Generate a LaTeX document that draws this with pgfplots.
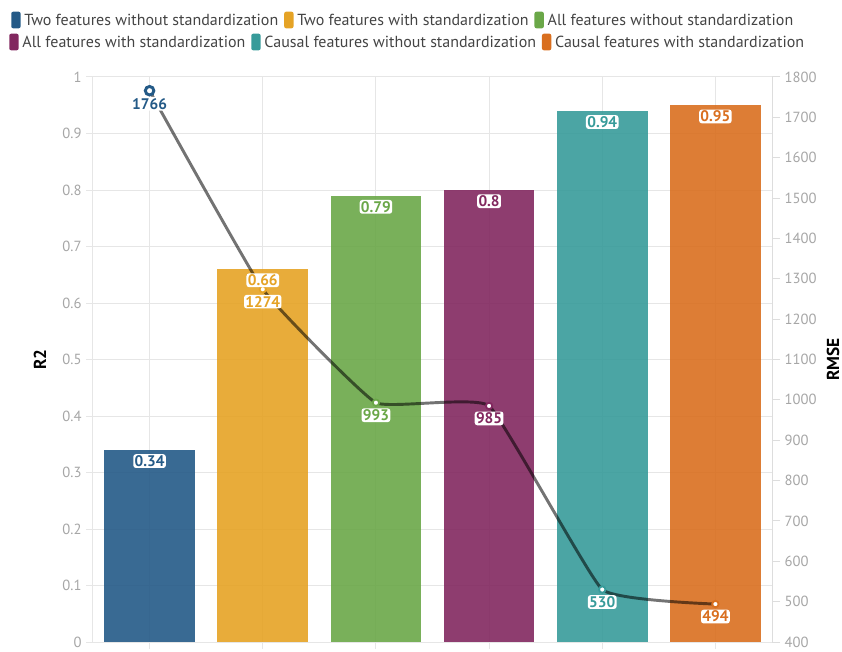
\documentclass[border=0pt]{standalone}
\usepackage{fontspec}
\setmainfont{PT Sans}
\usepackage{pgfplots}
\pgfplotsset{compat=1.18}

\definecolor{cBlue}{HTML}{245A87}
\definecolor{cYellow}{HTML}{E5A325}
\definecolor{cGreen}{HTML}{6AA748}
\definecolor{cPurple}{HTML}{82285F}
\definecolor{cTeal}{HTML}{379B9A}
\definecolor{cOrange}{HTML}{D96F1F}
\definecolor{gridgray}{HTML}{E6E6E6}
\definecolor{spinegray}{HTML}{DDDDDD}
\definecolor{tickgray}{HTML}{A6A6A6}
\definecolor{legtext}{HTML}{444444}

\pgfplotsset{
  /pgf/number format/assume math mode=true,
  /pgf/number format/1000 sep={},
  panel/.style={scale only axis, width=509.25pt, height=423.75pt,
    xmin=-0.5, xmax=5.5, clip=false},
  r2bar/.style={ybar, bar shift=0pt, draw=none, fill=#1, fill opacity=0.9},
  rmsemark/.style={only marks, mark=*, mark size=2.4pt,
    mark options={fill=white, draw=#1, line width=1.4pt},
    nodes near coords,
    every node near coord/.style={anchor=north, yshift=-3.5pt,
      font=\bfseries\fontsize{11.5}{13}\selectfont, text=#1,
      fill=white, rounded corners=2pt, inner sep=1pt}},
  r2label/.style={only marks, mark=none, nodes near coords,
    every node near coord/.style={anchor=north, yshift=-3pt,
      font=\bfseries\fontsize{11.5}{13}\selectfont, text=#1,
      fill=white, rounded corners=2pt, inner sep=1pt}},
}

\tikzset{
  swatch/.style={fill=#1, rounded corners=1.5pt, minimum width=7pt,
    minimum height=12.5pt, inner sep=0pt, anchor=west},
  legtxt/.style={anchor=west, inner sep=0pt, text=legtext,
    font=\fontsize{12}{14}\selectfont},
}

\begin{document}
\begin{tikzpicture}
\useasboundingbox (-69.75pt,-6.75pt) rectangle (561.75pt,481.5pt);

% R2 bars, left axis
\begin{axis}[panel, ymin=0, ymax=1,
  axis x line*=bottom, axis y line*=left,
  axis line style={-, draw=gridgray, line width=0.75pt},
  xtick={0,1,2,3,4,5}, xticklabels={,,,,,},
  xticklabel style={inner sep=0pt, yshift=12pt},
  ytick={0,0.1,0.2,0.3,0.4,0.5,0.6,0.7,0.8,0.9,1},
  grid=major, grid style={draw=gridgray, line width=0.75pt},
  tick align=outside, major tick length=5pt,
  tick style={draw=gridgray, line width=0.75pt},
  yticklabel style={font=\fontsize{11}{13}\selectfont, text=tickgray},
  ylabel={R2},
  ylabel style={font=\bfseries\fontsize{13}{15}\selectfont,
    at={(axis description cs:-0.078,0.5)}, anchor=center},
  bar width=0.8,
]
\addplot[r2bar=cBlue]   coordinates {(0,0.34)};
\addplot[r2bar=cYellow] coordinates {(1,0.66)};
\addplot[r2bar=cGreen]  coordinates {(2,0.79)};
\addplot[r2bar=cPurple] coordinates {(3,0.8)};
\addplot[r2bar=cTeal]   coordinates {(4,0.94)};
\addplot[r2bar=cOrange] coordinates {(5,0.95)};
\end{axis}

% RMSE line, right axis
\begin{axis}[panel, ymin=400, ymax=1800,
  axis x line=none, axis y line*=right,
  axis line style={-, draw=spinegray, line width=0.75pt},
  ytick={400,500,600,700,800,900,1000,1100,1200,1300,1400,1500,1600,1700,1800},
  tick align=outside, major tick length=6pt,
  tick style={draw=spinegray, line width=0.75pt},
  yticklabel style={font=\fontsize{11}{13}\selectfont, text=tickgray},
  ylabel={RMSE},
  ylabel style={font=\bfseries\fontsize{13}{15}\selectfont,
    at={(axis description cs:1.09,0.5)}, anchor=center},
]
\addplot[smooth, tension=0.2, line width=2.2pt, draw=black, draw opacity=0.55]
  coordinates {(0,1766) (1,1274) (2,993) (3,985) (4,530) (5,494)};
\addplot[rmsemark=cBlue, mark size=3.2pt,
  mark options={fill=white, draw=cBlue, line width=2.2pt}] coordinates {(0,1766)};
\addplot[rmsemark=cYellow] coordinates {(1,1274)};
\addplot[rmsemark=cGreen]  coordinates {(2,993)};
\addplot[rmsemark=cPurple] coordinates {(3,985)};
\addplot[rmsemark=cTeal]   coordinates {(4,530)};
\addplot[rmsemark=cOrange] coordinates {(5,494)};
\end{axis}

% R2 value labels on top of everything
\begin{axis}[panel, ymin=0, ymax=1, hide axis]
\addplot[r2label=cBlue]   coordinates {(0,0.34)};
\addplot[r2label=cYellow] coordinates {(1,0.66)};
\addplot[r2label=cGreen]  coordinates {(2,0.79)};
\addplot[r2label=cPurple] coordinates {(3,0.8)};
\addplot[r2label=cTeal]   coordinates {(4,0.94)};
\addplot[r2label=cOrange] coordinates {(5,0.95)};
\end{axis}

% legend
\begin{scope}[x=0.75pt, y=0.75pt]
\node[swatch=cBlue] (a1) at (-82,622) {};
\node[legtxt] (t1) at ([xshift=2.5pt]a1.east) {Two features without standardization};
\node[swatch=cYellow] (a2) at ([xshift=4pt]t1.east) {};
\node[legtxt] (t2) at ([xshift=2.5pt]a2.east) {Two features with standardization};
\node[swatch=cGreen] (a3) at ([xshift=4pt]t2.east) {};
\node[legtxt] (t3) at ([xshift=2.5pt]a3.east) {All features without standardization};
\node[swatch=cPurple] (b1) at (-84,600) {};
\node[legtxt] (u1) at ([xshift=2.5pt]b1.east) {All features with standardization};
\node[swatch=cTeal] (b2) at ([xshift=4pt]u1.east) {};
\node[legtxt] (u2) at ([xshift=2.5pt]b2.east) {Causal features without standardization};
\node[swatch=cOrange] (b3) at ([xshift=4pt]u2.east) {};
\node[legtxt] (u3) at ([xshift=2.5pt]b3.east) {Causal features with standardization};
\end{scope}
\end{tikzpicture}
\end{document}
